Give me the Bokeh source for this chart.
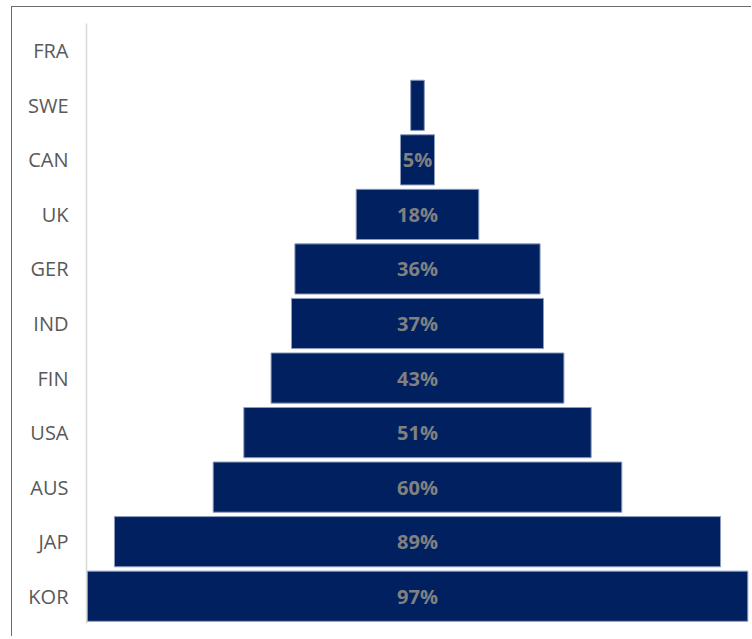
from bokeh.plotting import figure
from bokeh.models import ColumnDataSource, Range1d, FactorRange
from bokeh.core.properties import value
from bokeh.embed import file_html
from bokeh.resources import INLINE

countries = ["FRA", "SWE", "CAN", "UK", "GER", "IND", "FIN", "USA", "AUS", "JAP", "KOR"]
shares = [0, 2, 5, 18, 36, 37, 43, 51, 60, 89, 97]
labels = ["", "", "5%", "18%", "36%", "37%", "43%", "51%", "60%", "89%", "97%"]

src = ColumnDataSource(dict(
    cat=countries,
    left=[-v / 2 for v in shares],
    right=[v / 2 for v in shares],
    mid=[0] * len(shares),
    lab=labels,
    edge=[0.0 if v == 0 else 1.0 for v in shares],
))

W, H = 740, 630
p = figure(
    width=W, height=H,
    y_range=FactorRange(factors=list(reversed(countries)), range_padding=0),
    x_range=Range1d(-48.60, 49.19),
    output_backend="svg", toolbar_location=None,
    x_axis_location=None,
    min_border_left=74, min_border_right=0, min_border_top=16, min_border_bottom=14,
)
p.styles = {
    "margin-left": "11px",
    "margin-top": "6px",
    "border-left": "1px solid #6b6b6b",
    "border-top": "1px solid #6b6b6b",
}

p.hbar(y="cat", left="left", right="right", height=0.92, source=src,
       fill_color="#002060", line_color="#8e9cbc", line_width=1,
       line_alpha="edge")

p.text(x="mid", y="cat", text="lab", source=src,
       text_align="center", text_baseline="middle",
       text_font=value("Open Sans"), text_font_style="bold",
       text_font_size="20px", text_color="#808080")

p.xgrid.visible = False
p.ygrid.visible = False
p.outline_line_color = None

ax = p.yaxis[0]
ax.axis_line_color = "#d9d9d9"
ax.axis_line_width = 1.5
ax.major_tick_line_color = None
ax.minor_tick_line_color = None
ax.major_label_text_font = "Open Sans"
ax.major_label_text_font_size = "20px"
ax.major_label_text_color = "#595959"
ax.major_label_standoff = 12

open("out.html", "w").write(file_html(p, INLINE))
